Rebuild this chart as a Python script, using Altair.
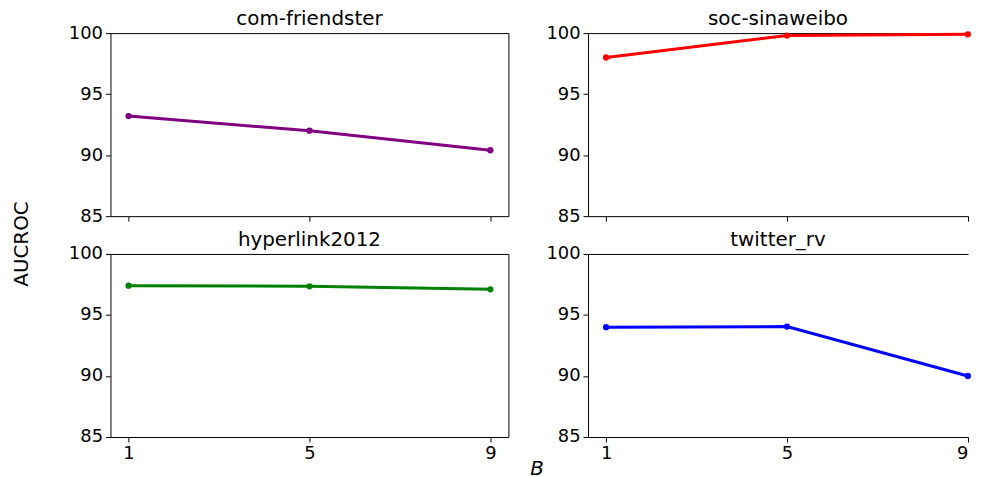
import altair as alt
import pandas as pd

B = [1, 5, 9]
friendster = [93.2, 92.0, 90.4]
sinaweibo = [98.0, 99.8, 99.9]
hyperlink = [97.4, 97.35, 97.1]
twitter = [94.0, 94.05, 90.0]

FONT = "DejaVu Sans"


def panel(title, values, color, show_labels, right_col):
    df = pd.DataFrame({"B": B, "v": values})
    width = 382 if right_col else 400
    xmax = 9.004 if right_col else 9.4
    xs = alt.Scale(domain=[0.6, xmax], nice=False, zero=False)
    ys = alt.Scale(domain=[85, 100], nice=False, zero=False)
    main = alt.Chart(df).mark_line(
        color=color, strokeWidth=3,
        point=alt.OverlayMarkDef(filled=True, size=40, color=color, opacity=1),
    ).encode(
        x=alt.X("B:Q", scale=xs,
                axis=alt.Axis(orient="bottom", values=[1, 5, 9], labels=show_labels,
                              title=None, grid=False, format="d")),
        y=alt.Y("v:Q", scale=ys,
                axis=alt.Axis(orient="left", values=[85, 90, 95, 100], title=None,
                              grid=False)),
    )
    if right_col:
        y_frame = alt.Y("v:Q", scale=ys, axis=None)
    else:
        y_frame = alt.Y("v:Q", scale=ys,
                        axis=alt.Axis(orient="right", labels=False, ticks=False,
                                      domain=True, title=None, grid=False,
                                      minExtent=0, maxExtent=0, labelPadding=0))
    frame = alt.Chart(df).mark_point(opacity=0).encode(
        x=alt.X("B:Q", scale=xs,
                axis=alt.Axis(orient="top", labels=False, ticks=False, domain=True,
                              title=None, grid=False, minExtent=0, maxExtent=0,
                              labelPadding=0)),
        y=y_frame,
    )
    return (main + frame).resolve_axis(x="independent", y="independent").properties(
        width=width, height=184,
        title=alt.TitleParams(title, fontSize=20, font=FONT, fontWeight="normal",
                              color="black", offset=-5),
    )


row1 = alt.hconcat(
    panel("com-friendster", friendster, "purple", False, False),
    panel("soc-sinaweibo", sinaweibo, "red", False, True),
    spacing=37,
)
row2 = alt.hconcat(
    panel("hyperlink2012", hyperlink, "green", True, False),
    panel("twitter_rv", twitter, "blue", True, True),
    spacing=37,
)

inner = alt.vconcat(row1, row2, spacing=5).properties(
    title=alt.TitleParams("B", orient="bottom", anchor="middle", fontSize=20,
                          font=FONT, fontStyle="italic", fontWeight="normal",
                          color="black", offset=-4, dx=16)
)

chart = alt.vconcat(inner).properties(
    title=alt.TitleParams("AUCROC", orient="left", anchor="middle", fontSize=20,
                          font=FONT, fontWeight="normal", color="black", offset=37),
    padding={"left": 3, "top": 0, "right": 0, "bottom": 0},
).configure_view(
    stroke=None
).configure_axis(
    domainColor="black", tickColor="black", labelColor="black",
    labelFont=FONT, labelFontSize=18, tickSize=5, labelPadding=3,
    domainWidth=1, tickWidth=1,
).configure_concat(spacing=0)

chart.save("out.html", embed_options={"renderer": "svg", "actions": False})
